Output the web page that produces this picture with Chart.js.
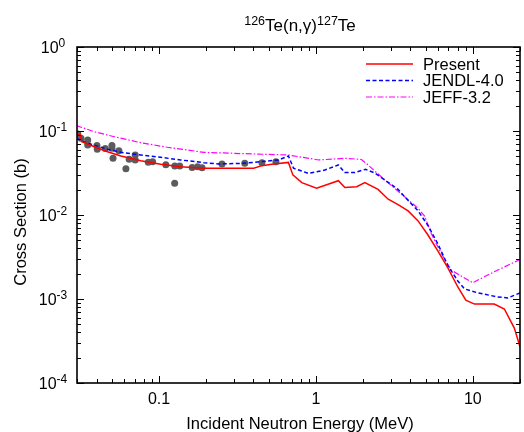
<!DOCTYPE html>
<html>
<head>
<meta charset="utf-8">
<script src="https://cdn.jsdelivr.net/npm/chart.js@4.4.1/dist/chart.umd.min.js"></script>
<style>
    body { margin: 0; background: #fff; }
</style>
</head>
<body>
<canvas id="chart" width="524" height="432"></canvas>
<script>
// energies in MeV, cross sections in barn
const presentE = [0.0297, 0.0315, 0.0322, 0.0387, 0.047, 0.0571, 0.0765, 0.1026, 0.137, 0.193, 0.401, 0.453, 0.523, 0.668, 0.713, 0.813, 1.01, 1.39, 1.53, 1.82, 2.05, 2.49, 2.89, 3.34, 3.87, 4.48, 5.18, 6.0, 6.94, 8.03, 9.03, 10.26, 13.7, 15.9, 18.4, 20];
const presentXS = [0.092, 0.090, 0.0746, 0.065, 0.0567, 0.0504, 0.0443, 0.0401, 0.0376, 0.036, 0.036, 0.0387, 0.0401, 0.0423, 0.030, 0.0243, 0.0208, 0.0256, 0.0212, 0.0217, 0.0243, 0.0202, 0.0154, 0.0133, 0.0112, 0.0085, 0.00578, 0.00372, 0.00234, 0.00139, 0.00097, 0.00087, 0.00087, 0.00076, 0.00045, 0.00027];

const jendlE = [0.0297, 0.035, 0.0387, 0.047, 0.0571, 0.0765, 0.1026, 0.137, 0.193, 0.240, 0.338, 0.475, 0.578, 0.668, 0.72, 0.896, 1.14, 1.39, 1.53, 1.77, 2.07, 2.38, 2.75, 3.34, 3.68, 4.48, 5.18, 6.0, 6.94, 8.03, 8.86, 10.8, 14.4, 16.7, 20];
const jendlXS = [0.082, 0.0714, 0.068, 0.0605, 0.0557, 0.0518, 0.0486, 0.0452, 0.042, 0.0405, 0.0412, 0.0436, 0.0452, 0.0504, 0.036, 0.0313, 0.0343, 0.0394, 0.032, 0.032, 0.035, 0.0316, 0.0261, 0.0202, 0.0165, 0.0112, 0.0075, 0.0045, 0.0025, 0.00164, 0.00132, 0.00118, 0.00106, 0.00103, 0.00118];

const jeffE = [0.0297, 0.0387, 0.0518, 0.0765, 0.113, 0.151, 0.193, 0.411, 0.668, 1.04, 1.53, 1.95, 2.15, 2.75, 3.68, 4.48, 4.93, 5.43, 6.29, 7.28, 10.0, 13.7, 20];
const jeffXS = [0.116, 0.098, 0.0855, 0.0726, 0.064, 0.0594, 0.0557, 0.0532, 0.0518, 0.0452, 0.0473, 0.0458, 0.0394, 0.0261, 0.0165, 0.012, 0.0097, 0.00605, 0.0035, 0.00221, 0.00156, 0.00211, 0.00295];

// experimental points
const expE = [0.0304, 0.0318, 0.0351, 0.0351, 0.0402, 0.0404, 0.0454, 0.0501, 0.0501, 0.0509, 0.0555, 0.0615, 0.0645, 0.0705, 0.0705, 0.0854, 0.091, 0.1105, 0.1258, 0.126, 0.1355, 0.1626, 0.176, 0.188, 0.252, 0.352, 0.453, 0.556];
const expXS = [0.092, 0.0819, 0.0781, 0.0681, 0.0672, 0.0605, 0.0619, 0.0672, 0.0622, 0.0473, 0.0583, 0.0356, 0.0462, 0.0518, 0.0452, 0.0424, 0.0431, 0.0397, 0.0238, 0.0383, 0.0383, 0.0368, 0.0376, 0.0366, 0.0405, 0.0412, 0.042, 0.043];

const xTickLabels = [0.1, 1, 10];
const yTickPowers = [0, -1, -2, -3, -4];

const FONT = '"Liberation Sans", Arial, Helvetica, sans-serif';

function toPoints(xs, ys) {
    return xs.map((x, i) => ({ x: x, y: ys[i] }));
}

// draws text pieces, some of them raised as superscripts
function drawPieces(ctx, pieces, x, y, align) {
    let total = 0;
    pieces.forEach(p => {
        ctx.font = p.size + 'px ' + FONT;
        p.w = ctx.measureText(p.t).width;
        total += p.w;
    });
    let cx = align === 'center' ? x - total / 2 : x;
    ctx.textAlign = 'left';
    ctx.textBaseline = 'alphabetic';
    pieces.forEach(p => {
        ctx.font = p.size + 'px ' + FONT;
        ctx.fillText(p.t, cx, y - (p.up || 0));
        cx += p.w;
    });
}

const framePlugin = {
    id: 'frame',
    afterDatasetsDraw(chart) {
        const ctx = chart.ctx;
        const a = chart.chartArea;
        const xs = chart.scales.x;
        const ys = chart.scales.y;
        ctx.save();
        ctx.strokeStyle = '#000';
        ctx.fillStyle = '#000';

        // ticks pointing inward on all four sides
        ctx.lineWidth = 1;
        ctx.beginPath();
        for (let d = -2; d <= 1; d++) {
            for (let m = 1; m <= 9; m++) {
                const v = m * Math.pow(10, d);
                if (v < xs.min || v > xs.max) continue;
                const px = Math.round(xs.getPixelForValue(v)) + 0.5;
                const len = m === 1 ? 7 : 4;
                ctx.moveTo(px, a.bottom); ctx.lineTo(px, a.bottom - len);
                ctx.moveTo(px, a.top); ctx.lineTo(px, a.top + len);
            }
        }
        for (let d = -4; d <= 0; d++) {
            for (let m = 1; m <= 9; m++) {
                const v = m * Math.pow(10, d);
                if (v < ys.min || v > ys.max) continue;
                const py = Math.round(ys.getPixelForValue(v)) + 0.5;
                const len = m === 1 ? 7 : 4;
                ctx.moveTo(a.left, py); ctx.lineTo(a.left + len, py);
                ctx.moveTo(a.right, py); ctx.lineTo(a.right - len, py);
            }
        }
        ctx.stroke();

        ctx.lineWidth = 1.6;
        ctx.strokeRect(a.left, a.top, a.right - a.left, a.bottom - a.top);

        // x tick labels
        ctx.font = '16px ' + FONT;
        ctx.textAlign = 'center';
        ctx.textBaseline = 'middle';
        xTickLabels.forEach(v => {
            ctx.fillText(String(v), xs.getPixelForValue(v), 400);
        });

        // y tick labels 10^n
        yTickPowers.forEach(p => {
            const py = ys.getPixelForValue(Math.pow(10, p));
            drawPieces(ctx, [
                { t: '10', size: 16 },
                { t: String(p), size: 12, up: 6 }
            ], 53, py + 6, 'center');
        });

        // axis titles
        ctx.font = '16.5px ' + FONT;
        ctx.textAlign = 'center';
        ctx.textBaseline = 'alphabetic';
        ctx.fillText('Incident Neutron Energy (MeV)', 300, 429);
        ctx.save();
        ctx.translate(26, 222);
        ctx.rotate(-Math.PI / 2);
        ctx.fillText('Cross Section (b)', 0, 0);
        ctx.restore();

        // title
        drawPieces(ctx, [
            { t: '126', size: 12.5, up: 6 },
            { t: 'Te(n,\u03b3)', size: 17 },
            { t: '127', size: 12.5, up: 6 },
            { t: 'Te', size: 17 }
        ], 300, 31, 'center');

        // legend
        const rows = [64, 80.5, 97];
        for (let i = 0; i < 3; i++) {
            const ds = chart.data.datasets[i];
            ctx.strokeStyle = ds.borderColor;
            ctx.lineWidth = ds.borderWidth;
            ctx.setLineDash(ds.borderDash || []);
            ctx.beginPath();
            ctx.moveTo(366, rows[i]);
            ctx.lineTo(413, rows[i]);
            ctx.stroke();
            ctx.setLineDash([]);
            ctx.fillStyle = '#000';
            ctx.font = '16.5px ' + FONT;
            ctx.textAlign = 'left';
            ctx.textBaseline = 'middle';
            ctx.fillText(ds.label, 423, rows[i] + 1);
        }
        ctx.restore();
    }
};

new Chart(document.getElementById('chart'), {
    type: 'line',
    data: {
        datasets: [
            {
                label: 'Present',
                data: toPoints(presentE, presentXS),
                borderColor: '#ff0000',
                borderWidth: 1.5,
                pointRadius: 0,
                tension: 0
            },
            {
                label: 'JENDL-4.0',
                data: toPoints(jendlE, jendlXS),
                borderColor: '#0000ff',
                borderWidth: 1.5,
                borderDash: [4, 2.5],
                pointRadius: 0,
                tension: 0
            },
            {
                label: 'JEFF-3.2',
                data: toPoints(jeffE, jeffXS),
                borderColor: '#ff00ff',
                borderWidth: 1.2,
                borderDash: [6, 2, 1.5, 2],
                pointRadius: 0,
                tension: 0
            },
            {
                label: 'Exp',
                data: toPoints(expE, expXS),
                showLine: false,
                pointRadius: 3.5,
                pointBackgroundColor: '#5c5c5c',
                pointBorderWidth: 0,
                borderColor: '#5c5c5c'
            }
        ]
    },
    options: {
        responsive: false,
        animation: false,
        layout: {
            padding: { left: 77, top: 47, right: 1, bottom: 49 }
        },
        scales: {
            x: { type: 'logarithmic', min: 0.03, max: 20, display: false },
            y: { type: 'logarithmic', min: 0.0001, max: 1, display: false }
        },
        plugins: {
            legend: { display: false },
            title: { display: false },
            tooltip: { enabled: false }
        }
    },
    plugins: [framePlugin]
});
</script>
</body>
</html>
